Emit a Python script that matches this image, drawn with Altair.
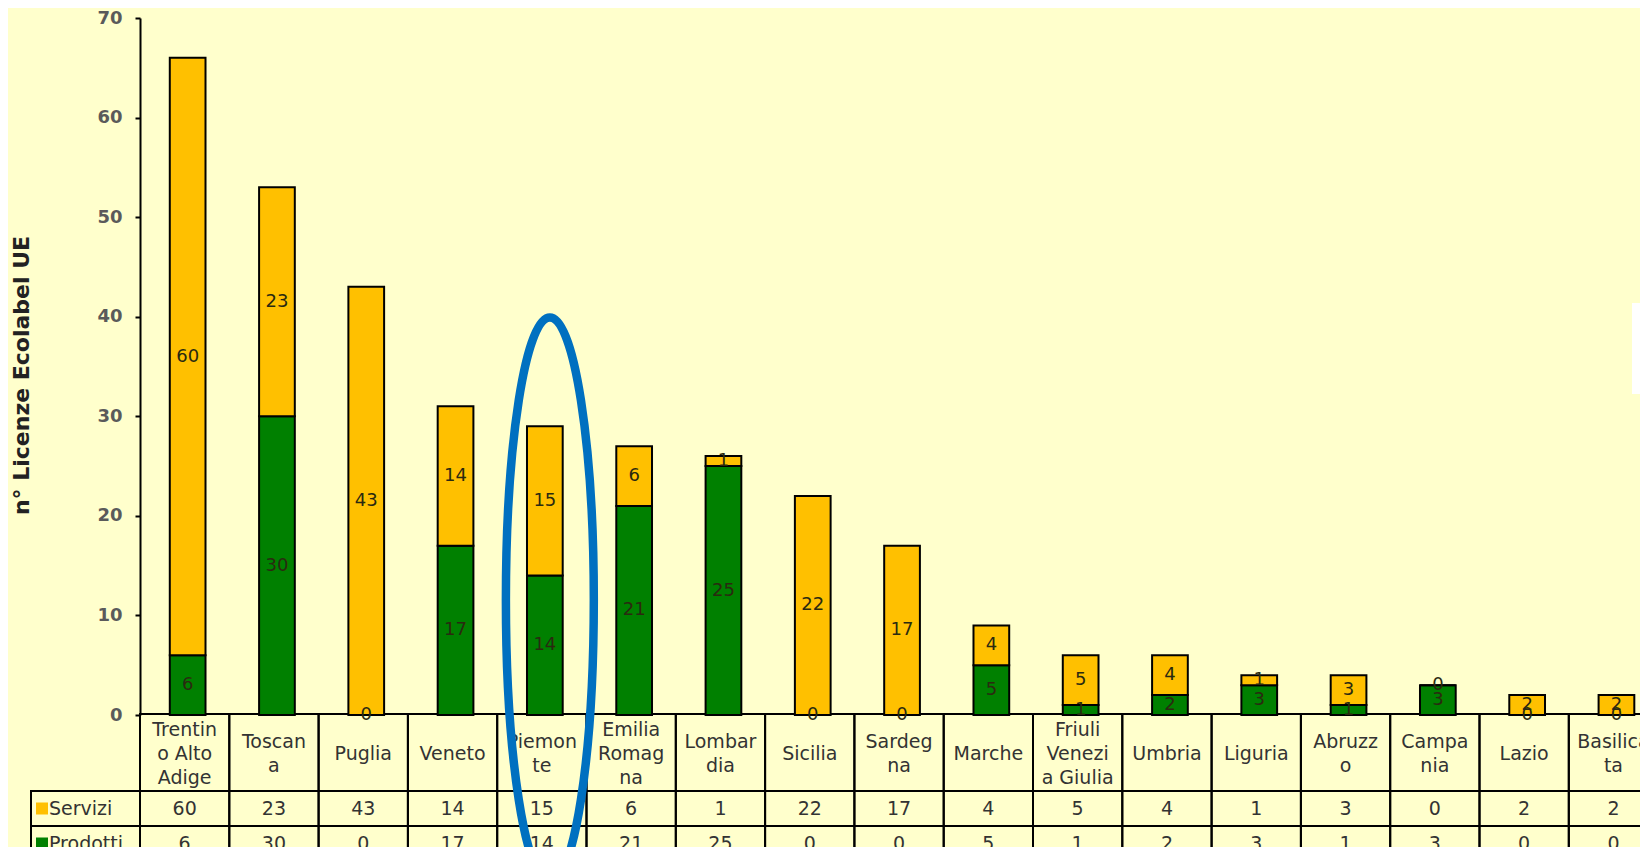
import altair as alt
import pandas as pd

# ---------------- data ----------------
categories = ["Trentino Alto Adige", "Toscana", "Puglia", "Veneto", "Piemonte",
              "Emilia Romagna", "Lombardia", "Sicilia", "Sardegna", "Marche",
              "Friuli Venezia Giulia", "Umbria", "Liguria", "Abruzzo", "Campania",
              "Lazio", "Basilicata"]
cell_labels = ["Trentin\no Alto\nAdige", "Toscan\na", "Puglia", "Veneto", "Piemon\nte",
               "Emilia\nRomag\nna", "Lombar\ndia", "Sicilia", "Sardeg\nna", "Marche",
               "Friuli\nVenezi\na Giulia", "Umbria", "Liguria", "Abruzz\no", "Campa\nnia",
               "Lazio", "Basilica\nta"]
servizi = [60, 23, 43, 14, 15, 6, 1, 22, 17, 4, 5, 4, 1, 3, 0, 2, 2]
prodotti = [6, 30, 0, 17, 14, 21, 25, 0, 0, 5, 1, 2, 3, 1, 3, 0, 0]
series_names = ["Servizi", "Prodotti"]
series_colors = ["#FFC000", "#008000"]
y_ticks = [0, 10, 20, 30, 40, 50, 60, 70]
y_title = "n° Licenze Ecolabel UE"
highlight = "Piemonte"

# ---------------- tables ----------------
cats_df = pd.DataFrame({"cat": categories, "label": cell_labels,
                        "Servizi": servizi, "Prodotti": prodotti})
rows = []
for c, s, p in zip(categories, servizi, prodotti):
    rows.append({"cat": c, "series": "Prodotti", "value": p, "ord": 0})
    rows.append({"cat": c, "series": "Servizi", "value": s, "ord": 1})
long_df = pd.DataFrame(rows)

BG = "#FFFFCC"
FONT = "DejaVu Sans"
TXT = "#333333"
BAND = 89.3
W, H = 1500, 697
LH = 24

X = alt.X("cat:N", sort=categories,
          scale=alt.Scale(domain=categories, range=[0, BAND * len(categories)],
                          paddingInner=0, paddingOuter=0),
          axis=None)
Y_AXIS = alt.Axis(values=y_ticks, grid=False, domainColor="black", domainWidth=2,
                  tickColor="black", tickWidth=2, tickSize=5,
                  labelFont=FONT, labelFontSize=18, labelFontWeight="bold",
                  labelColor="#5a5a5a", labelPadding=13,
                  title=y_title, titleFont=FONT, titleFontSize=22,
                  titleFontWeight="bold", titleColor="#222222",
                  titleX=-119, titleY=357, titleAngle=270,
                  titleAlign="center", titleBaseline="middle")
Y_SCALE = alt.Scale(domain=[0, 70], nice=False)

bars = alt.Chart(long_df).mark_bar(
    width=alt.RelativeBandSize(0.4), xOffset=3, stroke="black", strokeWidth=2
).encode(
    x=X,
    y=alt.Y("value:Q", stack="zero", scale=Y_SCALE, axis=Y_AXIS),
    color=alt.Color("series:N", scale=alt.Scale(domain=series_names, range=series_colors),
                    legend=None),
    order=alt.Order("ord:Q", sort="ascending"),
)

bar_labels = alt.Chart(long_df).transform_stack(
    stack="value", groupby=["cat"], as_=["v0", "v1"],
    sort=[alt.SortField("ord", order="ascending")]
).transform_calculate(
    mid="(datum.v0 + datum.v1) / 2"
).mark_text(
    xOffset=3, font=FONT, fontSize=18, color="#2a2a10", baseline="middle"
).encode(
    x=X, y=alt.Y("mid:Q", scale=Y_SCALE), text="value:Q"
)

cell_style = dict(fill="transparent", stroke="black", strokeWidth=2)
base_tab = alt.Chart(cats_df)

cat_cells = base_tab.mark_rect(**cell_style).encode(
    x=X, y=alt.value(696), y2=alt.value(773))
serv_cells = base_tab.mark_rect(**cell_style).encode(
    x=X, y=alt.value(773), y2=alt.value(808))
prod_cells = base_tab.mark_rect(**cell_style).encode(
    x=X, y=alt.value(808), y2=alt.value(843))

# category names, block vertically centred in the cell
cat_text_layers = []
for n in (1, 2, 3):
    cat_text_layers.append(
        base_tab.transform_calculate(nl="split(datum.label, '\\n').length")
        .transform_filter(f"datum.nl == {n}")
        .mark_text(lineBreak="\n", lineHeight=LH, baseline="middle",
                   font=FONT, fontSize=19, color=TXT)
        .encode(x=X, y=alt.value(736 - (n - 1) * LH / 2), text="label:N")
    )

serv_text = base_tab.mark_text(
    baseline="middle", font=FONT, fontSize=19, color=TXT
).encode(x=X, y=alt.value(790.5), text="Servizi:Q")
prod_text = base_tab.mark_text(
    baseline="middle", font=FONT, fontSize=19, color=TXT
).encode(x=X, y=alt.value(825.5), text="Prodotti:Q")

# legend column of the data table
leg_layers = []
for name, col, (top, bot) in zip(series_names, series_colors, [(773, 808), (808, 843)]):
    d = alt.Chart(pd.DataFrame({"name": [name]}))
    mid = (top + bot) / 2
    leg_layers.append(d.mark_rect(**cell_style).encode(
        x=alt.value(-109), x2=alt.value(0), y=alt.value(top), y2=alt.value(bot)))
    leg_layers.append(d.mark_rect(fill=col).encode(
        x=alt.value(-104), x2=alt.value(-92), y=alt.value(mid - 6), y2=alt.value(mid + 6)))
    leg_layers.append(d.mark_text(
        align="left", baseline="middle", font=FONT, fontSize=19, color=TXT
    ).encode(x=alt.value(-91), y=alt.value(mid), text="name:N"))

# fragment of the chart legend box at the right edge
legend_box = alt.Chart(pd.DataFrame({"name": ["legend"]})).mark_rect(fill="white").encode(
    x=alt.value(1492), x2=alt.value(1530), y=alt.value(285), y2=alt.value(376))

# highlight ellipse around Piemonte
ellipse_path = "M0,-1 A0.1556,1 0 1,1 0,1 A0.1556,1 0 1,1 0,-1 Z"
ellipse = alt.Chart(pd.DataFrame({"cat": [highlight]})).mark_point(
    shape=ellipse_path, size=565 ** 2, filled=False, color="#0070C0",
    strokeWidth=8.5, opacity=1, xOffset=8
).encode(x=X, y=alt.datum(11.55))

chart = alt.layer(
    cat_cells, serv_cells, prod_cells, *cat_text_layers, serv_text, prod_text,
    *leg_layers, bars, bar_labels, legend_box, ellipse
).properties(
    width=W, height=H,
    padding={"left": 132, "top": 10, "right": 0, "bottom": 132},
    autosize=alt.AutoSizeParams(type="none"),
    background=BG,
).configure_view(stroke=None)

chart.save("out.html", embed_options={"renderer": "svg", "actions": False})
